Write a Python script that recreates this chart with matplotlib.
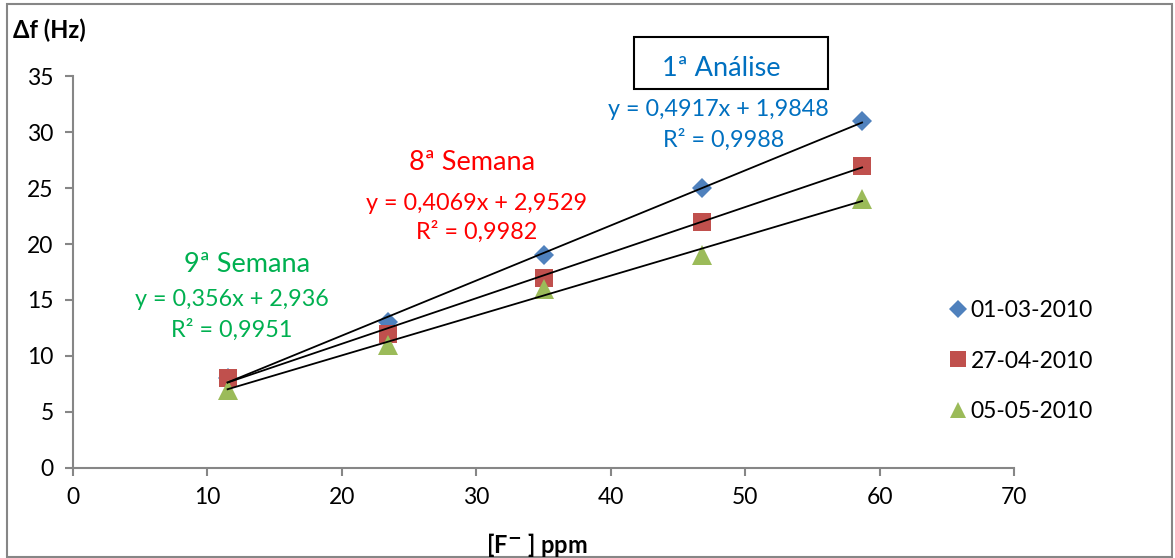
import matplotlib
matplotlib.use("Agg")
import matplotlib.pyplot as plt
from matplotlib.patches import Rectangle
import numpy as np

# Fluoride concentration (ppm) and frequency shift (Hz) for three measurement dates
conc_ppm = [11.5, 23.4, 35.0, 46.8, 58.7]
series_labels = ["01-03-2010", "27-04-2010", "05-05-2010"]
shift_0103 = [8, 13, 19, 25, 31]
shift_2704 = [8, 12, 17, 22, 27]
shift_0505 = [7, 11, 16, 19, 24]

# Linear fit coefficients (slope, intercept) and R² per series
fit_slopes = [0.4917, 0.4069, 0.356]
fit_intercepts = [1.9848, 2.9529, 2.936]
fit_eq_text = ["y = 0,4917x + 1,9848", "y = 0,4069x + 2,9529", "y = 0,356x + 2,936"]
fit_r2_text = ["R² = 0,9988", "R² = 0,9982", "R² = 0,9951"]
fit_titles = ["1ª Análise", "8ª Semana", "9ª Semana"]

x_ticks = [0, 10, 20, 30, 40, 50, 60, 70]
y_ticks = [0, 5, 10, 15, 20, 25, 30, 35]

plt.rcParams["font.family"] = ["Lato", "DejaVu Sans"]

W, H = 1175, 558
fig = plt.figure(figsize=(W / 100, H / 100), dpi=100)
fig.patch.set_facecolor("white")

# Plot area in pixel terms
left_px, right_px, top_px, bottom_px = 73, 1014, 76, 468
ax = fig.add_axes([left_px / W, (H - bottom_px) / H,
                   (right_px - left_px) / W, (bottom_px - top_px) / H])

axis_grey = "#868686"
marker_colors = ["#4F81BD", "#C0504D", "#9BBB59"]
markers = ["D", "s", "^"]
msizes = [10.5, 13.5, 14]
all_series = [shift_0103, shift_2704, shift_0505]

handles = []
for ys, c, m, ms, lab in zip(all_series, marker_colors, markers, msizes, series_labels):
    h, = ax.plot(conc_ppm, ys, linestyle="none", marker=m, markersize=ms,
                 color=c, markeredgewidth=0, label=lab, zorder=3)
    handles.append(h)

xs = np.array([conc_ppm[0], conc_ppm[-1]])
for a, b in zip(fit_slopes, fit_intercepts):
    ax.plot(xs, a * xs + b, color="black", linewidth=1.3, zorder=4)

tick_fs = 16.5
ax.set_xlim(0, 70)
ax.set_ylim(0, 35)
ax.set_xticks(x_ticks)
ax.set_yticks(y_ticks)
for s in ["top", "right"]:
    ax.spines[s].set_visible(False)
for s in ["left", "bottom"]:
    ax.spines[s].set_color(axis_grey)
    ax.spines[s].set_linewidth(1.5)
ax.tick_params(axis="both", direction="out", length=6, width=1.5,
               color=axis_grey, labelsize=tick_fs, labelcolor="black")
ax.tick_params(axis="x", pad=8)
ax.tick_params(axis="y", pad=8)

# Annotations for the fits
blue_t, red_t, green_t = "#0070C0", "#FF0000", "#00B050"
title_fs, eq_fs = 19.5, 16.8


def fx(px):
    return px / W


def fy(py):
    return 1 - py / H


fig.text(fx(721), fy(68), fit_titles[0], color=blue_t, fontsize=title_fs,
         ha="center", va="center")
fig.patches.append(Rectangle((fx(634), fy(89)), fx(828) - fx(634), fy(37) - fy(89),
                             transform=fig.transFigure, fill=False,
                             edgecolor="black", linewidth=1.5))
fig.text(fx(718), fy(110), fit_eq_text[0], color=blue_t, fontsize=eq_fs,
         ha="center", va="center")
fig.text(fx(724), fy(140), fit_r2_text[0], color=blue_t, fontsize=eq_fs,
         ha="center", va="center")

fig.text(fx(472), fy(162), fit_titles[1], color=red_t, fontsize=title_fs,
         ha="center", va="center")
fig.text(fx(477), fy(203), fit_eq_text[1], color=red_t, fontsize=eq_fs,
         ha="center", va="center")
fig.text(fx(477), fy(232), fit_r2_text[1], color=red_t, fontsize=eq_fs,
         ha="center", va="center")

fig.text(fx(247), fy(265), fit_titles[2], color=green_t, fontsize=title_fs,
         ha="center", va="center")
fig.text(fx(232), fy(299), fit_eq_text[2], color=green_t, fontsize=eq_fs,
         ha="center", va="center")
fig.text(fx(232), fy(330), fit_r2_text[2], color=green_t, fontsize=eq_fs,
         ha="center", va="center")

# Axis titles
fig.text(fx(13), fy(30), "Δf (Hz)", fontsize=17, fontweight="bold",
         ha="left", va="center")
fig.text(fx(537), fy(545), "[F$^{\\mathbf{-}}$ ] ppm", fontsize=17,
         fontweight="bold", ha="center", va="center")

# Legend
leg = fig.legend(handles=handles, labels=series_labels, loc="center left",
                 bbox_to_anchor=(fx(936), fy(361)), frameon=False,
                 fontsize=tick_fs, handlelength=0.9, handletextpad=0.1,
                 labelspacing=1.3, borderpad=0, markerscale=0.85)

# Outer chart border
fig.patches.append(Rectangle((fx(7), fy(557)), fx(1172) - fx(7), fy(4) - fy(557),
                             transform=fig.transFigure, fill=False,
                             edgecolor=axis_grey, linewidth=1.5))

fig.savefig("out.png", dpi=100, facecolor="white")
